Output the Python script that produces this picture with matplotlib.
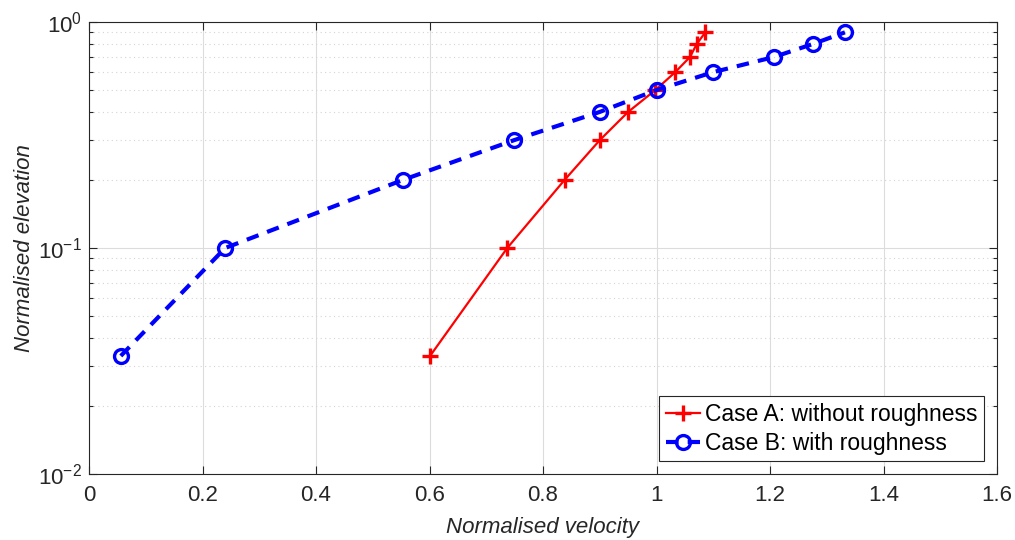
import matplotlib
matplotlib.use("Agg")
import matplotlib.pyplot as plt
from matplotlib.ticker import LogLocator, NullFormatter

plt.rcParams['font.family'] = ['Liberation Sans', 'DejaVu Sans']
plt.rcParams['mathtext.fontset'] = 'custom'
plt.rcParams['mathtext.rm'] = 'Liberation Sans'
plt.rcParams['mathtext.it'] = 'Liberation Sans:italic'

elevation = [0.0333, 0.1, 0.2, 0.3, 0.4, 0.5, 0.6, 0.7, 0.8, 0.9]
vel_a = [0.601, 0.737, 0.838, 0.900, 0.950, 0.998, 1.033, 1.059, 1.071, 1.086]
vel_b = [0.056, 0.240, 0.553, 0.749, 0.900, 1.000, 1.100, 1.207, 1.276, 1.332]
label_a = "Case A: without roughness"
label_b = "Case B: with roughness"
x_ticks = [0, 0.2, 0.4, 0.6, 0.8, 1.0, 1.2, 1.4, 1.6]
x_ticklabels = ['0', '0.2', '0.4', '0.6', '0.8', '1', '1.2', '1.4', '1.6']

fig = plt.figure(figsize=(10.15, 5.4), dpi=100)
ax = fig.add_axes([89/1015, 1 - 474/540, (997-89)/1015, (474-22)/540])

ax.plot(vel_a, elevation, color='red', lw=1.6, marker='+', ms=12, mew=2.4,
        label=label_a, zorder=3)
ax.plot(vel_b, elevation, color='blue', lw=3.0, ls=(0, (3.0, 2.2)), marker='o', ms=10,
        mfc='none', mew=2.4, label=label_b, zorder=4)

ax.set_yscale('log')
ax.set_xlim(0, 1.6)
ax.set_ylim(0.01, 1)
ax.set_xticks(x_ticks)
ax.set_xticklabels(x_ticklabels)
ax.yaxis.set_major_locator(LogLocator(base=10, numticks=5))
ax.yaxis.set_minor_locator(LogLocator(base=10, subs=range(2, 10), numticks=20))
ax.yaxis.set_minor_formatter(NullFormatter())

ax.grid(True, which='major', color='#dcdcdc', lw=0.8, ls='-')
ax.grid(True, which='minor', axis='y', color='#d4d4d4', lw=0.8, ls=(0, (1, 3)))
ax.set_axisbelow(True)

ax.tick_params(which='both', direction='in', top=True, right=True, labelsize=16,
               color='#262626', labelcolor='#262626')
ax.tick_params(which='major', length=6, width=0.8)
ax.tick_params(which='minor', length=3, width=0.8)
ax.tick_params(axis='x', which='major', pad=8)
ax.tick_params(axis='y', which='major', pad=5)
for s in ax.spines.values():
    s.set_color('#262626')
    s.set_linewidth(0.8)

ax.set_xlabel('Normalised velocity', fontsize=16, style='italic', color='#262626', labelpad=8)
ax.set_ylabel('Normalised elevation', fontsize=16, style='italic', color='#262626', labelpad=2)

leg = ax.legend(loc='lower right', fontsize=16.5, fancybox=False, framealpha=1,
                edgecolor='#262626', handlelength=1.5, borderpad=0.3,
                labelspacing=0.25, handletextpad=0.2, borderaxespad=0.55)
leg.get_frame().set_linewidth(0.8)

fig.savefig('out.png', dpi=100)
